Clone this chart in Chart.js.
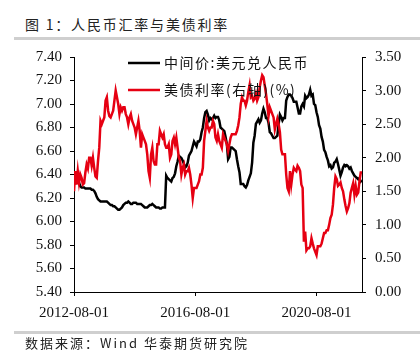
<!DOCTYPE html>
<html>
<head>
<meta charset="utf-8">
<script src="https://cdn.jsdelivr.net/npm/chart.js@4.4.1/dist/chart.umd.min.js"></script>
<style>
  html, body { margin: 0; padding: 0; background: #fff; }
  #wrap { position: relative; width: 420px; height: 357px; overflow: hidden; }
  #title { position: absolute; left: 25px; top: 15px; font: 14px "Noto Sans CJK SC", sans-serif; color: #222; white-space: nowrap; line-height: 18px; letter-spacing: 1.8px; }
  #source { position: absolute; left: 25px; top: 334px; font: 13px "Noto Sans CJK SC", sans-serif; color: #222; white-space: nowrap; line-height: 18px; letter-spacing: 2px; }
  .bar { position: absolute; left: 14px; right: 0; background: #cfcfcf; }
  #bar1 { top: 37px; height: 3px; }
  #bar2 { top: 331px; height: 3px; }
  canvas { position: absolute; left: 0; top: 0; }
</style>
</head>
<body>
<div id="wrap">
  <div id="title">图 1：人民币汇率与美债利率</div>
  <div class="bar" id="bar1"></div>
  <canvas id="c" width="420" height="357"></canvas>
  <div class="bar" id="bar2"></div>
  <div id="source">数据来源：Wind 华泰期货研究院</div>
</div>
<script>
// Semi-monthly observations starting 2012-08-01 (two per month)
const startDate = '2012-08-01';
const seriesLabels = ['中间价:美元兑人民币', '美债利率(右轴)(%)'];
const xTickLabels = ['2012-08-01', '2016-08-01', '2020-08-01'];
const leftTicks = [5.4, 5.6, 5.8, 6.0, 6.2, 6.4, 6.6, 6.8, 7.0, 7.2, 7.4];
const rightTicks = [0, 0.5, 1.0, 1.5, 2.0, 2.5, 3.0, 3.5];

const usdCny = [
  // 2012 Aug-Dec
  6.34, 6.33, 6.34, 6.33, 6.33, 6.30, 6.29, 6.29, 6.29, 6.28,
  // 2013
  6.28, 6.28, 6.28, 6.28, 6.27, 6.27, 6.26, 6.24, 6.21, 6.19, 6.18, 6.17,
  6.17, 6.17, 6.17, 6.17, 6.17, 6.16, 6.15, 6.14, 6.14, 6.13, 6.13, 6.12,
  // 2014
  6.11, 6.10, 6.10, 6.11, 6.12, 6.14, 6.15, 6.16, 6.16, 6.17, 6.16, 6.15,
  6.15, 6.16, 6.16, 6.16, 6.15, 6.15, 6.15, 6.15, 6.14, 6.13, 6.12, 6.12,
  // 2015
  6.12, 6.13, 6.14, 6.14, 6.15, 6.14, 6.13, 6.12, 6.12, 6.12, 6.11, 6.11,
  6.12, 6.12, 6.12, 6.39, 6.37, 6.36, 6.35, 6.34, 6.37, 6.38, 6.41, 6.47,
  // 2016
  6.51, 6.56, 6.55, 6.54, 6.52, 6.49, 6.46, 6.47, 6.50, 6.56, 6.58, 6.60,
  6.64, 6.68, 6.66, 6.64, 6.68, 6.68, 6.70, 6.76, 6.80, 6.88, 6.93, 6.94,
  // 2017
  6.91, 6.86, 6.88, 6.87, 6.88, 6.90, 6.88, 6.89, 6.89, 6.86, 6.80, 6.79,
  6.78, 6.77, 6.72, 6.66, 6.53, 6.55, 6.63, 6.63, 6.62, 6.61, 6.60, 6.53,
  // 2018
  6.47, 6.42, 6.32, 6.32, 6.32, 6.30, 6.29, 6.31, 6.35, 6.38, 6.41, 6.50,
  6.67, 6.73, 6.83, 6.85, 6.87, 6.84, 6.86, 6.92, 6.96, 6.93, 6.88, 6.88,
  // 2019
  6.84, 6.76, 6.75, 6.73, 6.71, 6.71, 6.72, 6.73, 6.83, 6.91, 6.89, 6.86,
  6.88, 6.88, 7.03, 7.06, 7.08, 7.08, 7.07, 7.05, 7.02, 7.02, 7.02, 6.97,
  // 2020
  6.92, 6.92, 6.98, 7.00, 6.98, 7.07, 7.05, 7.06, 7.08, 7.12, 7.07, 7.08,
  7.00, 6.99, 6.93, 6.89, 6.82, 6.79, 6.72, 6.68, 6.61, 6.59, 6.55, 6.52,
  // 2021
  6.47, 6.48, 6.45, 6.46, 6.50, 6.51, 6.53, 6.49, 6.44, 6.39, 6.42, 6.46,
  6.48, 6.47, 6.48, 6.47, 6.45, 6.46, 6.43, 6.41, 6.39, 6.38, 6.37, 6.36,
  // 2022 Jan-Feb
  6.37, 6.34, 6.35
];

const ust10y = [
  // 2012 Aug-Dec
  1.50, 1.80, 1.60, 1.80, 1.63, 1.75, 1.70, 1.60, 1.62, 1.78,
  // 2013
  1.90, 1.84, 2.00, 2.00, 1.88, 2.00, 1.85, 1.72, 1.70, 1.95, 2.15, 2.55,
  2.50, 2.55, 2.60, 2.85, 2.90, 2.70, 2.62, 2.60, 2.65, 2.70, 2.85, 3.00,
  // 2014
  2.90, 2.80, 2.65, 2.75, 2.70, 2.75, 2.75, 2.65, 2.60, 2.50, 2.60, 2.65,
  2.55, 2.50, 2.45, 2.35, 2.45, 2.55, 2.40, 2.15, 2.35, 2.30, 2.25, 2.20,
  // 2015
  2.05, 1.80, 1.70, 2.05, 2.15, 1.95, 1.90, 1.90, 2.20, 2.20, 2.40, 2.35,
  2.30, 2.35, 2.20, 2.15, 2.15, 2.20, 2.00, 2.05, 2.25, 2.30, 2.20, 2.30,
  // 2016
  2.15, 2.00, 1.95, 1.75, 1.85, 1.90, 1.75, 1.80, 1.80, 1.85, 1.75, 1.60,
  1.40, 1.55, 1.55, 1.55, 1.60, 1.65, 1.75, 1.75, 1.85, 2.25, 2.40, 2.55,
  // 2017
  2.45, 2.40, 2.45, 2.45, 2.55, 2.50, 2.30, 2.25, 2.35, 2.25, 2.20, 2.15,
  2.35, 2.30, 2.25, 2.20, 2.10, 2.20, 2.30, 2.35, 2.35, 2.35, 2.35, 2.40,
  // 2018
  2.48, 2.60, 2.80, 2.90, 2.85, 2.85, 2.78, 2.85, 2.98, 3.08, 2.90, 2.92,
  2.85, 2.88, 2.95, 2.85, 2.90, 3.05, 3.15, 3.23, 3.20, 3.08, 2.95, 2.80,
  // 2019
  2.62, 2.75, 2.70, 2.65, 2.60, 2.42, 2.50, 2.58, 2.50, 2.38, 2.12, 2.05,
  2.05, 2.05, 1.75, 1.55, 1.50, 1.80, 1.60, 1.75, 1.85, 1.82, 1.80, 1.88,
  // 2020
  1.85, 1.80, 1.60, 1.55, 0.75, 0.90, 0.62, 0.65, 0.65, 0.68, 0.80, 0.72,
  0.65, 0.60, 0.55, 0.68, 0.68, 0.68, 0.72, 0.80, 0.88, 0.88, 0.92, 0.92,
  // 2021
  1.00, 1.10, 1.15, 1.30, 1.55, 1.72, 1.68, 1.58, 1.60, 1.63, 1.55, 1.50,
  1.38, 1.28, 1.20, 1.25, 1.32, 1.48, 1.55, 1.62, 1.45, 1.58, 1.45, 1.48,
  // 2022 Jan-Feb
  1.65, 1.78, 1.78
];

function monthsFromStart(s) {
  const [y, m, d] = s.split('-').map(Number);
  const [y0, m0, d0] = startDate.split('-').map(Number);
  return (y - y0) * 12 + (m - m0) + (d - d0) / 30;
}
const toPts = arr => arr.map((v, i) => ({ x: i / 2, y: v }));
const xTickVals = xTickLabels.map(monthsFromStart);
const xMax = (Math.max(usdCny.length, ust10y.length) - 1) / 2;

const tickFont = { family: '"Liberation Serif", "Times New Roman", serif', size: 15 };

const legendPlugin = {
  id: 'customLegend',
  afterDraw(chart) {
    const ctx = chart.ctx;
    ctx.save();
    const items = chart.data.datasets;
    const ys = [63, 90];
    items.forEach((ds, i) => {
      const y = ys[i];
      ctx.strokeStyle = ds.borderColor;
      ctx.lineWidth = 2.5;
      ctx.beginPath();
      ctx.moveTo(128, y);
      ctx.lineTo(160, y);
      ctx.stroke();
      ctx.fillStyle = '#111';
      ctx.font = '14px "Noto Sans CJK SC", sans-serif';
      if ('letterSpacing' in ctx) ctx.letterSpacing = '1.5px';
      ctx.textBaseline = 'middle';
      ctx.textAlign = 'left';
      ctx.fillText(ds.label, 164, y);
    });
    ctx.restore();
  }
};

new Chart(document.getElementById('c'), {
  type: 'line',
  data: {
    datasets: [
      { label: seriesLabels[0], data: toPts(usdCny), borderColor: '#000000', borderWidth: 2.5, pointRadius: 0, yAxisID: 'yL', order: 1, tension: 0 },
      { label: seriesLabels[1], data: toPts(ust10y), borderColor: '#e60012', borderWidth: 2.5, pointRadius: 0, yAxisID: 'yR', order: 0, tension: 0 }
    ]
  },
  options: {
    responsive: false,
    animation: false,
    events: [],
    layout: { padding: { top: 57, left: 0, right: 0, bottom: 0 } },
    plugins: { legend: { display: false }, tooltip: { enabled: false } },
    scales: {
      x: {
        type: 'linear',
        min: 0,
        max: xMax,
        afterBuildTicks: s => { s.ticks = xTickVals.map(v => ({ value: v })); },
        afterFit: s => { s.height = 357 - 292; },
        grid: { display: true, drawOnChartArea: false, drawTicks: true, tickLength: 4, color: '#000' },
        border: { display: true, color: '#000', width: 1 },
        ticks: {
          autoSkip: false, maxRotation: 0, padding: 8, color: '#111', font: tickFont,
          callback: (v) => { const k = xTickVals.indexOf(v); return k >= 0 ? xTickLabels[k] : ''; }
        }
      },
      yL: {
        position: 'left',
        min: leftTicks[0],
        max: leftTicks[leftTicks.length - 1],
        afterBuildTicks: s => { s.ticks = leftTicks.map(v => ({ value: v })); },
        afterFit: s => { s.width = 74; },
        grid: { display: true, drawOnChartArea: false, drawTicks: true, tickLength: 4, color: '#000' },
        border: { display: true, color: '#000', width: 1 },
        ticks: { padding: 8, color: '#111', font: tickFont, callback: v => Number(v).toFixed(2) }
      },
      yR: {
        position: 'right',
        min: rightTicks[0],
        max: rightTicks[rightTicks.length - 1],
        afterBuildTicks: s => { s.ticks = rightTicks.map(v => ({ value: v })); },
        afterFit: s => { s.width = 420 - 362; },
        grid: { display: true, drawOnChartArea: false, drawTicks: true, tickLength: 4, color: '#000' },
        border: { display: true, color: '#000', width: 1 },
        ticks: { padding: 9, color: '#111', font: tickFont, callback: v => Number(v).toFixed(2) }
      }
    }
  },
  plugins: [legendPlugin]
});
</script>
</body>
</html>
